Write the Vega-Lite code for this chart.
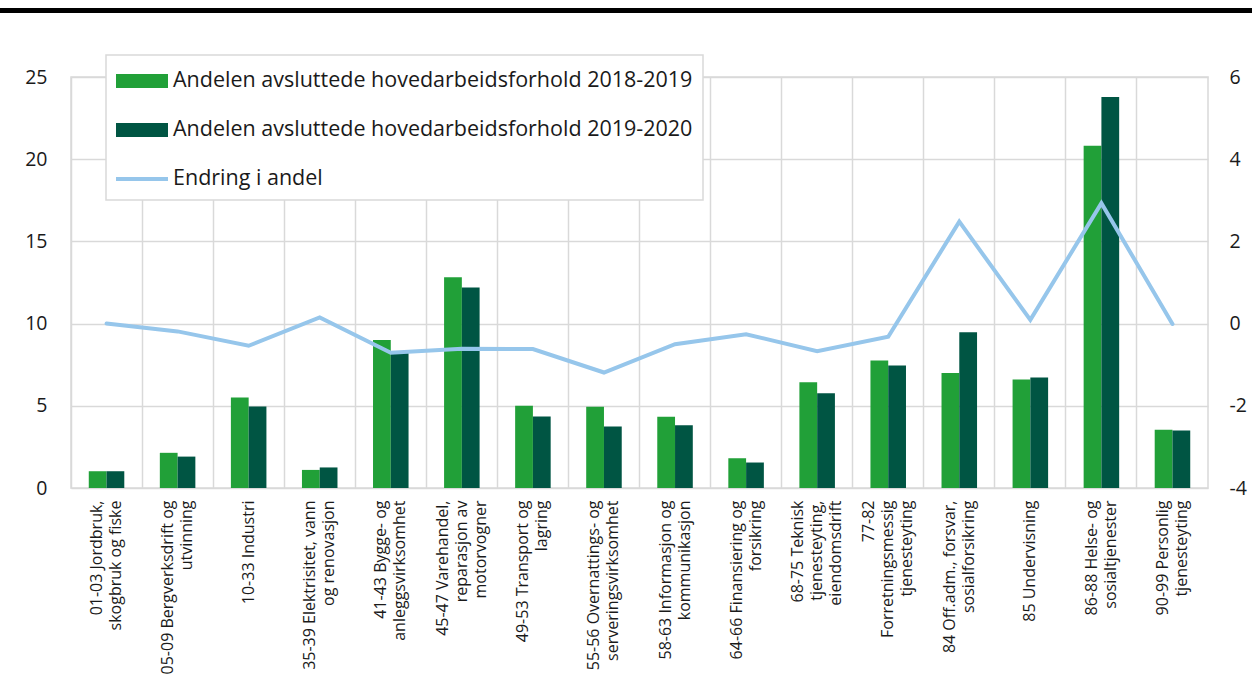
{
  "$schema": "https://vega.github.io/schema/vega-lite/v6.json",
  "padding": {"top": 8, "left": 0, "right": 0, "bottom": 0},
  "autosize": {"type": "pad"},
  "background": "white",
  "config": {
    "font": "Open Sans",
    "view": {"stroke": null},
    "axis": {"labelFont": "Open Sans", "labelColor": "#1a1a1a"},
    "legend": {"labelFont": "Open Sans", "labelColor": "#1a1a1a"}
  },
  "datasets": {
    "bars": [
      {"naring": "01-03 Jordbruk,|skogbruk og fiske", "serie": "Andelen avsluttede hovedarbeidsforhold 2018-2019", "andel": 1.02},
      {"naring": "01-03 Jordbruk,|skogbruk og fiske", "serie": "Andelen avsluttede hovedarbeidsforhold 2019-2020", "andel": 1.02},
      {"naring": "05-09 Bergverksdrift og|utvinning", "serie": "Andelen avsluttede hovedarbeidsforhold 2018-2019", "andel": 2.14},
      {"naring": "05-09 Bergverksdrift og|utvinning", "serie": "Andelen avsluttede hovedarbeidsforhold 2019-2020", "andel": 1.91},
      {"naring": "10-33 Industri", "serie": "Andelen avsluttede hovedarbeidsforhold 2018-2019", "andel": 5.5},
      {"naring": "10-33 Industri", "serie": "Andelen avsluttede hovedarbeidsforhold 2019-2020", "andel": 4.95},
      {"naring": "35-39 Elektrisitet, vann|og renovasjon", "serie": "Andelen avsluttede hovedarbeidsforhold 2018-2019", "andel": 1.1},
      {"naring": "35-39 Elektrisitet, vann|og renovasjon", "serie": "Andelen avsluttede hovedarbeidsforhold 2019-2020", "andel": 1.25},
      {"naring": "41-43 Bygge- og|anleggsvirksomhet", "serie": "Andelen avsluttede hovedarbeidsforhold 2018-2019", "andel": 9.0},
      {"naring": "41-43 Bygge- og|anleggsvirksomhet", "serie": "Andelen avsluttede hovedarbeidsforhold 2019-2020", "andel": 8.3},
      {"naring": "45-47 Varehandel,|reparasjon av|motorvogner", "serie": "Andelen avsluttede hovedarbeidsforhold 2018-2019", "andel": 12.82},
      {"naring": "45-47 Varehandel,|reparasjon av|motorvogner", "serie": "Andelen avsluttede hovedarbeidsforhold 2019-2020", "andel": 12.2},
      {"naring": "49-53 Transport og|lagring", "serie": "Andelen avsluttede hovedarbeidsforhold 2018-2019", "andel": 5.0},
      {"naring": "49-53 Transport og|lagring", "serie": "Andelen avsluttede hovedarbeidsforhold 2019-2020", "andel": 4.35},
      {"naring": "55-56 Overnattings- og|serveringsvirksomhet", "serie": "Andelen avsluttede hovedarbeidsforhold 2018-2019", "andel": 4.94},
      {"naring": "55-56 Overnattings- og|serveringsvirksomhet", "serie": "Andelen avsluttede hovedarbeidsforhold 2019-2020", "andel": 3.74},
      {"naring": "58-63 Informasjon og|kommunikasjon", "serie": "Andelen avsluttede hovedarbeidsforhold 2018-2019", "andel": 4.33},
      {"naring": "58-63 Informasjon og|kommunikasjon", "serie": "Andelen avsluttede hovedarbeidsforhold 2019-2020", "andel": 3.82},
      {"naring": "64-66 Finansiering og|forsikring", "serie": "Andelen avsluttede hovedarbeidsforhold 2018-2019", "andel": 1.81},
      {"naring": "64-66 Finansiering og|forsikring", "serie": "Andelen avsluttede hovedarbeidsforhold 2019-2020", "andel": 1.55},
      {"naring": "68-75 Teknisk|tjenesteyting,|eiendomsdrift", "serie": "Andelen avsluttede hovedarbeidsforhold 2018-2019", "andel": 6.43},
      {"naring": "68-75 Teknisk|tjenesteyting,|eiendomsdrift", "serie": "Andelen avsluttede hovedarbeidsforhold 2019-2020", "andel": 5.76},
      {"naring": "77-82|Forretningsmessig|tjenesteyting", "serie": "Andelen avsluttede hovedarbeidsforhold 2018-2019", "andel": 7.75},
      {"naring": "77-82|Forretningsmessig|tjenesteyting", "serie": "Andelen avsluttede hovedarbeidsforhold 2019-2020", "andel": 7.45},
      {"naring": "84 Off.adm., forsvar,|sosialforsikring", "serie": "Andelen avsluttede hovedarbeidsforhold 2018-2019", "andel": 7.0},
      {"naring": "84 Off.adm., forsvar,|sosialforsikring", "serie": "Andelen avsluttede hovedarbeidsforhold 2019-2020", "andel": 9.47},
      {"naring": "85 Undervisning", "serie": "Andelen avsluttede hovedarbeidsforhold 2018-2019", "andel": 6.6},
      {"naring": "85 Undervisning", "serie": "Andelen avsluttede hovedarbeidsforhold 2019-2020", "andel": 6.72},
      {"naring": "86-88 Helse- og|sosialtjenester", "serie": "Andelen avsluttede hovedarbeidsforhold 2018-2019", "andel": 20.82},
      {"naring": "86-88 Helse- og|sosialtjenester", "serie": "Andelen avsluttede hovedarbeidsforhold 2019-2020", "andel": 23.78},
      {"naring": "90-99 Personlig|tjenesteyting", "serie": "Andelen avsluttede hovedarbeidsforhold 2018-2019", "andel": 3.54},
      {"naring": "90-99 Personlig|tjenesteyting", "serie": "Andelen avsluttede hovedarbeidsforhold 2019-2020", "andel": 3.5}
    ],
    "line": [
      {"naring": "01-03 Jordbruk,|skogbruk og fiske", "endring": 0.0},
      {"naring": "05-09 Bergverksdrift og|utvinning", "endring": -0.19},
      {"naring": "10-33 Industri", "endring": -0.54},
      {"naring": "35-39 Elektrisitet, vann|og renovasjon", "endring": 0.15},
      {"naring": "41-43 Bygge- og|anleggsvirksomhet", "endring": -0.71},
      {"naring": "45-47 Varehandel,|reparasjon av|motorvogner", "endring": -0.61},
      {"naring": "49-53 Transport og|lagring", "endring": -0.62},
      {"naring": "55-56 Overnattings- og|serveringsvirksomhet", "endring": -1.19},
      {"naring": "58-63 Informasjon og|kommunikasjon", "endring": -0.5},
      {"naring": "64-66 Finansiering og|forsikring", "endring": -0.26},
      {"naring": "68-75 Teknisk|tjenesteyting,|eiendomsdrift", "endring": -0.67},
      {"naring": "77-82|Forretningsmessig|tjenesteyting", "endring": -0.32},
      {"naring": "84 Off.adm., forsvar,|sosialforsikring", "endring": 2.48},
      {"naring": "85 Undervisning", "endring": 0.09},
      {"naring": "86-88 Helse- og|sosialtjenester", "endring": 2.93},
      {"naring": "90-99 Personlig|tjenesteyting", "endring": -0.01}
    ]
  },
  "spacing": 64,
  "center": true,
  "bounds": "flush",
  "vconcat": [
    {
      "width": 1279,
      "height": 5,
      "view": {"fill": "#000000", "stroke": null},
      "data": {"values": []},
      "mark": "rule",
      "encoding": {}
    },
    {
      "width": 1137,
      "height": 411,
      "view": {"stroke": "#d9d9d9", "strokeWidth": 1.5},
      "resolve": {"scale": {"y": "independent"}},
      "layer": [
        {
          "data": {"name": "bars"},
          "mark": {"type": "bar"},
          "encoding": {
            "x": {
              "field": "naring", "type": "nominal", "sort": null,
              "scale": {"paddingInner": 0, "paddingOuter": 0},
              "axis": {
                "title": null, "labelAngle": -90, "labelExpr": "split(datum.label, '|')",
                "labelFontSize": 16, "labelLineHeight": 19, "labelPadding": 12, "labelLimit": 0,
                "labelOffset": {
                  "condition": [
                    {"test": "length(split(datum.value, '|')) === 3", "value": -19},
                    {"test": "length(split(datum.value, '|')) === 2", "value": -9.5}
                  ],
                  "value": 0
                },
                "ticks": false, "domain": false, "grid": true, "bandPosition": 0,
                "gridColor": "#d9d9d9", "gridWidth": 1.5
              }
            },
            "xOffset": {"field": "serie", "type": "nominal", "sort": null, "scale": {"paddingInner": 0, "paddingOuter": 1.13}},
            "y": {
              "field": "andel", "type": "quantitative",
              "scale": {"domain": [0, 25], "nice": false},
              "axis": {
                "title": null, "values": [0, 5, 10, 15, 20, 25], "grid": true,
                "gridColor": "#d9d9d9", "gridWidth": 1.5, "domain": false, "ticks": false,
                "labelFontSize": 19.5, "labelPadding": 24
              }
            },
            "color": {
              "field": "serie", "type": "nominal",
              "scale": {
                "domain": ["Andelen avsluttede hovedarbeidsforhold 2018-2019", "Andelen avsluttede hovedarbeidsforhold 2019-2020", "Endring i andel"],
                "range": ["#21a038", "#005543", "#96c6eb"]
              },
              "legend": {
                "title": null, "orient": "none", "legendX": 106, "legendY": 47, "direction": "vertical",
                "fillColor": "white", "strokeColor": "#d9d9d9", "padding": 10,
                "labelFontSize": 21.5, "labelOffset": 25, "labelLimit": 0,
                "symbolSize": 1024, "symbolType": "M-1,-0.4375H2.25V0.4375H-1Z", "symbolStrokeWidth": 0,
                "rowPadding": 22,
                "encode": {
                  "legend": {"update": {"strokeWidth": {"value": 1.5}}},
                  "symbols": {
                    "update": {
                      "shape": {"signal": "datum.value === 'Endring i andel' ? 'M-1,-0.125H2.25V0.125H-1Z' : 'M-1,-0.4375H2.25V0.4375H-1Z'"}
                    }
                  }
                }
              }
            }
          }
        },
        {
          "data": {"name": "line"},
          "mark": {"type": "line", "color": "#96c6eb", "strokeWidth": 4, "strokeCap": "round"},
          "encoding": {
            "x": {"field": "naring", "type": "nominal", "sort": null},
            "y": {
              "field": "endring", "type": "quantitative",
              "scale": {"domain": [-4, 6], "nice": false},
              "axis": {
                "orient": "right", "title": null, "values": [-4, -2, 0, 2, 4, 6], "grid": false,
                "domain": false, "ticks": false, "labelFontSize": 19.5, "labelPadding": 21,
                "labelExpr": "'' + datum.value"
              }
            }
          }
        }
      ]
    }
  ]
}
